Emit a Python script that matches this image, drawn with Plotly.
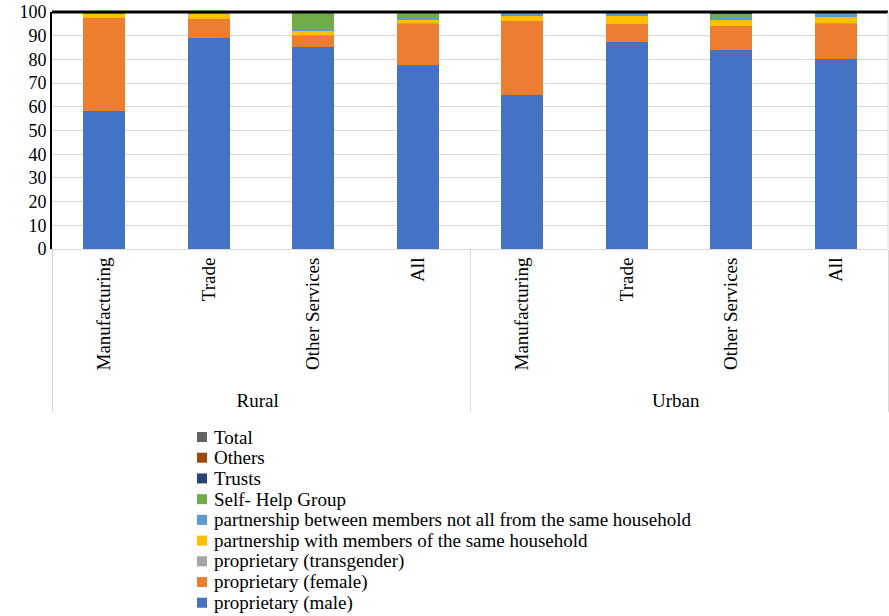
import plotly.graph_objects as go

regions = ["Rural"] * 4 + ["Urban"] * 4
sectors = ["Manufacturing", "Trade", "Other Services", "All"] * 2

male = [58.1, 89.2, 85.4, 77.8, 64.8, 87.4, 84.0, 80.2]
female = [39.4, 8.0, 4.6, 17.4, 31.5, 7.6, 10.2, 15.0]
transgender = [0.0, 0.0, 0.1, 0.1, 0.0, 0.0, 0.1, 0.1]
partner_same = [1.7, 2.0, 2.0, 1.4, 2.0, 3.2, 2.4, 2.7]
partner_notall = [0.5, 0.5, 0.6, 1.0, 1.4, 1.4, 1.4, 1.3]
shg = [0.1, 0.1, 7.0, 2.0, 0.1, 0.1, 1.2, 0.3]
trusts = [0.0, 0.0, 0.1, 0.1, 0.1, 0.1, 0.3, 0.2]
others = [0.2, 0.2, 0.2, 0.2, 0.1, 0.2, 0.4, 0.2]
total = [100, 100, 100, 100, 100, 100, 100, 100]

series = [
    ("proprietary (male)", male, "#4472C4"),
    ("proprietary (female)", female, "#ED7D31"),
    ("proprietary (transgender)", transgender, "#A5A5A5"),
    ("partnership with members of the same household", partner_same, "#FFC000"),
    ("partnership between members not all from the same household", partner_notall, "#5B9BD5"),
    ("Self- Help Group", shg, "#70AD47"),
    ("Trusts", trusts, "#264478"),
    ("Others", others, "#9E480E"),
    ("Total", total, "#636363"),
]

W, H = 889, 616
ML, MR, MT, MB = 52, 1, 12, 367
PW, PH = W - ML - MR, H - MT - MB

fig = go.Figure()
for name, vals, col in series:
    fig.add_trace(go.Bar(x=[regions, sectors], y=vals, name=name, showlegend=False,
                         marker=dict(color=col, line=dict(width=0))))

font = "Liberation Serif, Times New Roman, serif"
fig.update_layout(
    barmode="stack",
    bargap=0.6,
    width=W, height=H,
    margin=dict(l=ML, r=MR, t=MT, b=MB, autoexpand=False),
    paper_bgcolor="white", plot_bgcolor="white",
    font=dict(family=font, size=19, color="black"),
    xaxis=dict(type="multicategory", tickangle=-90, showgrid=False, automargin=False,
               showline=True, linecolor="#D9D9D9", linewidth=1,
               showdividers=True, dividercolor="#D9D9D9", dividerwidth=1,
               tickfont=dict(family=font, size=19, color="black"), ticks=""),
    yaxis=dict(range=[0, 100], dtick=10, showgrid=True, gridcolor="#D9D9D9",
               gridwidth=1, showline=True, linecolor="black", linewidth=2,
               ticks="", automargin=False,
               tickfont=dict(family=font, size=18, color="black"),
               zeroline=False),
)
fig.add_shape(type="line", xref="paper", yref="paper", x0=0, x1=1, y0=1, y1=1,
              line=dict(color="black", width=3))
fig.add_shape(type="line", xref="paper", yref="paper", x0=1, x1=1, y0=0, y1=1,
              line=dict(color="#D9D9D9", width=1))

# legend (reversed order, vertical list below the chart)
leg_x_px, leg_y0_px, leg_step = 197, 437, 20.72
for i, (name, vals, col) in enumerate(reversed(series)):
    cy = leg_y0_px + i * leg_step
    py = (H - MB - cy) / PH
    x0 = (leg_x_px - ML) / PW
    x1 = (leg_x_px + 10 - ML) / PW
    fig.add_shape(type="rect", xref="paper", yref="paper",
                  x0=x0, x1=x1, y0=py - 5 / PH, y1=py + 5 / PH,
                  fillcolor=col, line=dict(width=0))
    fig.add_annotation(xref="paper", yref="paper", x=(leg_x_px + 15 - ML) / PW, y=py,
                       text=name, showarrow=False, xanchor="left", yanchor="middle",
                       font=dict(family=font, size=19, color="black"))
fig.write_html("out.html")
